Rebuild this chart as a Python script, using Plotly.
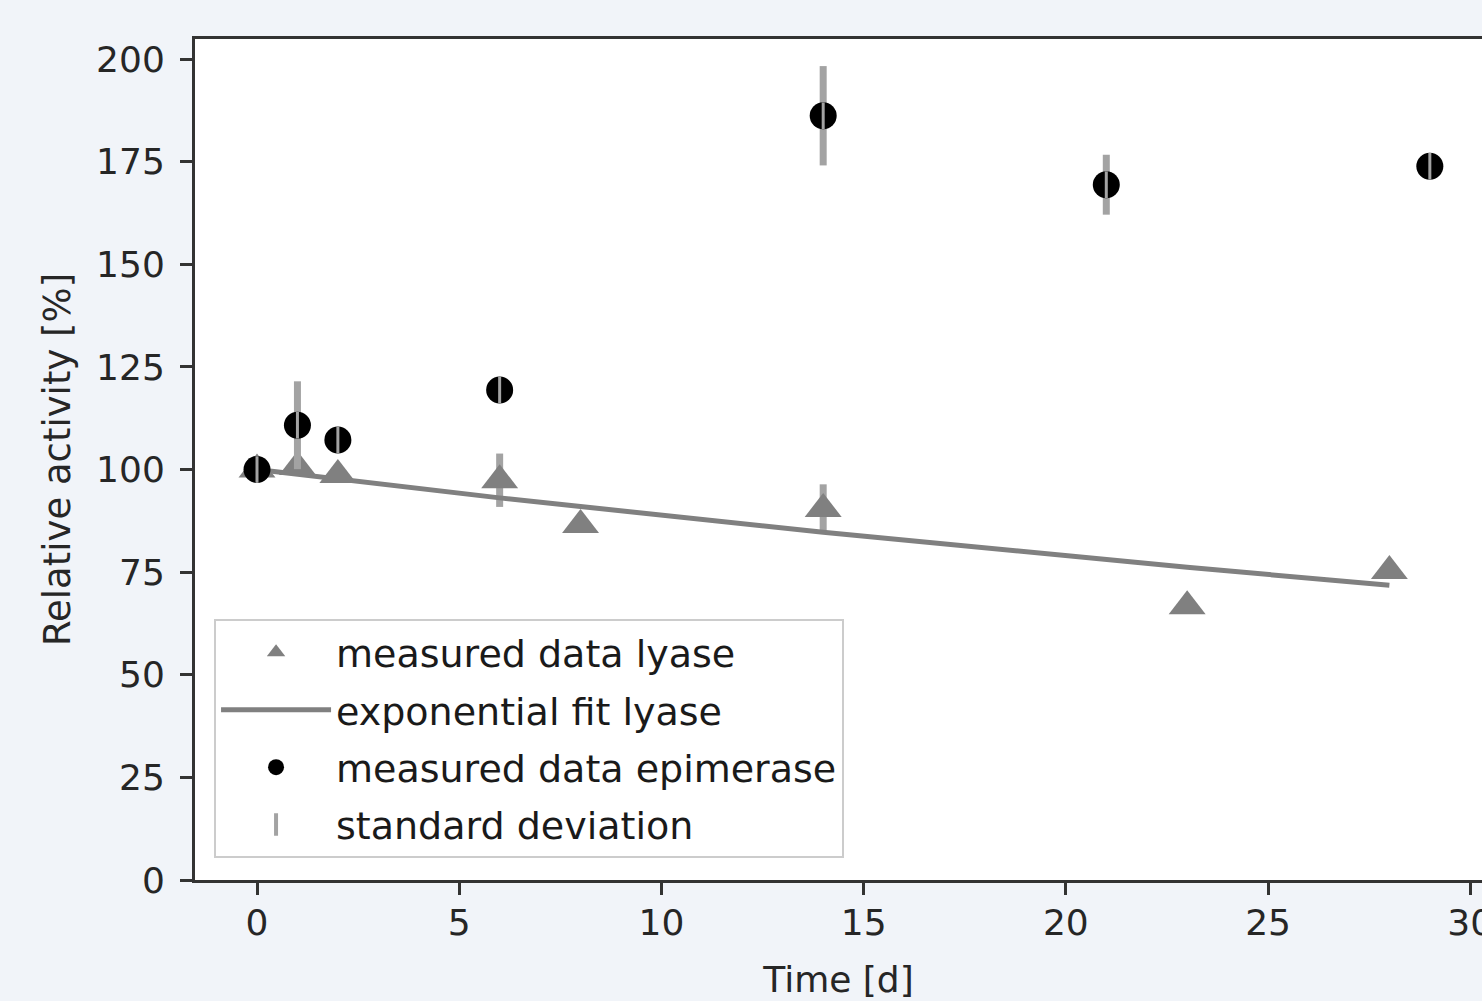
import plotly.graph_objects as go

# ---- data ----
lyase_days = [0, 1, 2, 6, 8, 14, 23, 28]
lyase_activity = [100.0, 100.6, 98.7, 97.4, 86.5, 90.4, 66.7, 75.3]
lyase_sd = [0.0, 1.5, 1.5, 6.5, 1.0, 6.0, 1.0, 1.0]

fit_days = [0, 1, 2, 6, 8, 14, 23, 28]
fit_activity = [100.0, 98.8, 97.7, 93.1, 91.0, 84.7, 76.2, 71.8]

epi_days = [0, 1, 2, 6, 14, 21, 29]
epi_activity = [100.0, 110.8, 107.2, 119.4, 186.2, 169.4, 173.9]
epi_sd = [1.0, 10.7, 2.0, 2.0, 12.1, 7.3, 1.0]

x_ticks = [0, 5, 10, 15, 20, 25, 30]
y_ticks = [0, 25, 50, 75, 100, 125, 150, 175, 200]

GREY = "#808080"
ERR_GREY = "#a3a3a3"
FONT = "DejaVu Sans"
TXT = "#262626"
INVISIBLE = "rgba(0,0,0,0)"

fig = go.Figure()

# lyase error bars (beneath the triangles)
fig.add_trace(go.Scatter(
    x=lyase_days, y=lyase_activity, mode="markers", showlegend=False,
    hoverinfo="skip", marker=dict(size=1, color=INVISIBLE),
    error_y=dict(type="data", array=lyase_sd, visible=True, color=ERR_GREY,
                 thickness=7, width=0),
))

# exponential fit
fig.add_trace(go.Scatter(
    x=fit_days, y=fit_activity, mode="lines",
    name="exponential fit lyase", legendgroup="b", legendrank=2,
    line=dict(color=GREY, width=5),
))

# lyase measured
fig.add_trace(go.Scatter(
    x=lyase_days, y=lyase_activity, mode="markers",
    name="measured data lyase", legendgroup="a", legendrank=1,
    marker=dict(symbol="triangle-up", size=32, color=GREY, line=dict(width=0)),
))

# epimerase error bars (beneath the circles)
fig.add_trace(go.Scatter(
    x=epi_days, y=epi_activity, mode="markers", showlegend=False,
    hoverinfo="skip", marker=dict(size=1, color=INVISIBLE),
    error_y=dict(type="data", array=epi_sd, visible=True, color=ERR_GREY,
                 thickness=7, width=0),
))

# epimerase measured
fig.add_trace(go.Scatter(
    x=epi_days, y=epi_activity, mode="markers",
    name="measured data epimerase", legendgroup="c", legendrank=3,
    marker=dict(symbol="circle", size=27, color="black", line=dict(width=0)),
))

# thin grey stripe visible through the circles
fig.add_trace(go.Scatter(
    x=epi_days, y=epi_activity, mode="markers", showlegend=False,
    hoverinfo="skip",
    marker=dict(symbol="line-ns", size=19, color=ERR_GREY,
                line=dict(width=3, color=ERR_GREY)),
))

# legend entry for standard deviation
fig.add_trace(go.Scatter(
    x=[None], y=[None], mode="markers",
    name="standard deviation", legendgroup="d", legendrank=4,
    marker=dict(symbol="line-ns", size=30, color=ERR_GREY,
                line=dict(width=4, color=ERR_GREY)),
))

axis_common = dict(
    showline=True, linecolor="#333333", linewidth=3,
    ticks="outside", ticklen=12, tickwidth=3, tickcolor="#333333",
    showgrid=False, zeroline=False, automargin=False,
    tickfont=dict(family=FONT, size=36, color=TXT),
    ticklabeloverflow="allow",
)

fig.update_xaxes(
    range=[-1.533, 30.29], tickvals=x_ticks, mirror=True,
    ticklabelstandoff=-3,
    title=dict(text="Time [d]", font=dict(family=FONT, size=36, color=TXT),
               standoff=25),
    **axis_common,
)
fig.update_yaxes(
    range=[0, 204.9], tickvals=y_ticks,
    ticklabelstandoff=8,
    title=dict(text="Relative activity [%]",
               font=dict(family=FONT, size=37, color=TXT), standoff=15),
    **axis_common,
)

fig.update_layout(
    width=1482, height=1001,
    margin=dict(l=195, r=0, t=39, b=121, pad=0),
    paper_bgcolor="#f1f4f9", plot_bgcolor="white",
    font=dict(family=FONT, color=TXT),
    showlegend=True,
    legend=dict(
        x=0.0148, y=0.026, xanchor="left", yanchor="bottom",
        bgcolor="white", bordercolor="#cccccc", borderwidth=2,
        font=dict(family=FONT, size=38, color="#1a1a1a"),
        traceorder="grouped", tracegroupgap=5, itemwidth=110,
        itemsizing="trace",
    ),
)

fig.write_html(
    "out.html",
    config={"displayModeBar": False},
    post_script="document.body.style.margin='0';document.body.style.padding='0';"
                "document.body.style.overflow='hidden';"
                "document.body.style.background='#f1f4f9';",
)
